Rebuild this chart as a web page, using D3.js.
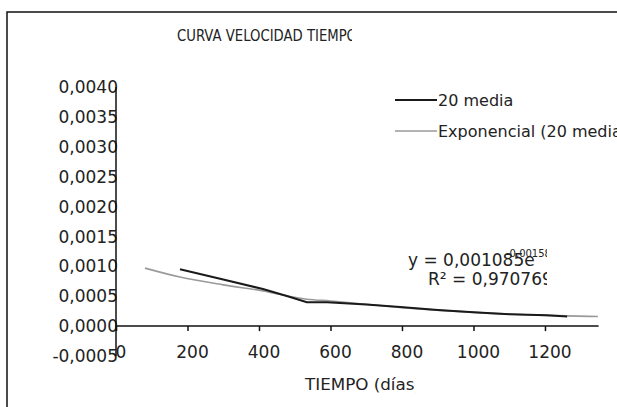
<!DOCTYPE html>
<html lang="es">
<head>
<meta charset="utf-8">
<title>Curva velocidad tiempo</title>
<script src="https://d3js.org/d3.v7.min.js"></script>
<style>
  body { margin: 0; background: #fff; }
  text { font-family: "DejaVu Sans", sans-serif; fill: #222; }
</style>
</head>
<body>
<script>
// values
var mediaDias = [179, 300, 411, 480, 534, 590, 700, 795, 900, 1000, 1100, 1205, 1262];
var mediaVel  = [0.00095, 0.00078, 0.00062, 0.00050, 0.00040, 0.00040, 0.00036, 0.00032, 0.00027, 0.00023, 0.00020, 0.00018, 0.00016];

var expDias = [81, 179, 300, 411, 534, 600, 800, 1000, 1200, 1348];
var expVel  = [0.00097, 0.00082, 0.00069, 0.00059, 0.00045, 0.00042, 0.00031, 0.00023, 0.00018, 0.00016];

var xTicks = [0, 200, 400, 600, 800, 1000, 1200];
var yTicks = [-0.0005, 0, 0.0005, 0.001, 0.0015, 0.002, 0.0025, 0.003, 0.0035, 0.004];
var yTickLabels = ["-0,0005", "0,0000", "0,0005", "0,0010", "0,0015", "0,0020", "0,0025", "0,0030", "0,0035", "0,0040"];

var seriesNames = ["20 media", "Exponencial (20 media)"];

var width = 617, height = 407;

var svg = d3.select("body").append("svg")
    .attr("width", width)
    .attr("height", height);

// outer frame (runs off the right and bottom)
svg.append("rect")
    .attr("x", 7).attr("y", 12)
    .attr("width", 700).attr("height", 420)
    .attr("fill", "none")
    .attr("stroke", "#111")
    .attr("stroke-width", 1.5);

var defs = svg.append("defs");
function clip(id, x, y, w, h) {
  defs.append("clipPath").attr("id", id)
    .append("rect").attr("x", x).attr("y", y).attr("width", w).attr("height", h);
  return "url(#" + id + ")";
}

var x = d3.scaleLinear().domain([0, 1350]).range([116, 598.6]);
var y = d3.scaleLinear().domain([-0.0005, 0.004]).range([356, 87]);

// title (cut off like in the original)
svg.append("text")
    .attr("clip-path", clip("cTitle", 0, 0, 352, 60))
    .attr("x", 177).attr("y", 41)
    .attr("font-size", 16)
    .attr("textLength", 180)
    .attr("lengthAdjust", "spacingAndGlyphs")
    .text("CURVA VELOCIDAD TIEMPO");

// y labels
svg.append("g").selectAll("text")
    .data(yTicks)
    .enter().append("text")
    .attr("x", 118)
    .attr("y", function(d) { return y(d); })
    .attr("dy", "0.36em")
    .attr("text-anchor", "end")
    .attr("font-size", 17)
    .text(function(d, i) { return yTickLabels[i]; });

// x axis
var xAxis = svg.append("g")
    .attr("transform", "translate(0," + y(0) + ")")
    .call(d3.axisBottom(x).tickValues(xTicks).tickSize(5).tickFormat(""));
xAxis.select(".domain").attr("stroke", "#111").attr("stroke-width", 1.5)
    .attr("d", "M" + x(0) + ",0H" + x(1350));
xAxis.selectAll(".tick line").attr("stroke", "#111").attr("stroke-width", 1.5);

svg.append("g").selectAll("text")
    .data(xTicks)
    .enter().append("text")
    .attr("x", function(d) { return x(d) + 5; })
    .attr("y", 358)
    .attr("text-anchor", "middle")
    .attr("font-size", 17)
    .text(function(d) { return d; });

// y axis line
svg.append("line")
    .attr("x1", x(0)).attr("x2", x(0))
    .attr("y1", y(0.004)).attr("y2", y(-0.0005))
    .attr("stroke", "#111").attr("stroke-width", 1.5);

// x title
svg.append("text")
    .attr("clip-path", clip("cXt", 0, 360, 416, 47))
    .attr("x", 305).attr("y", 390)
    .attr("font-size", 16)
    .attr("textLength", 116)
    .attr("lengthAdjust", "spacingAndGlyphs")
    .text("TIEMPO (días)");

// series
var line = d3.line()
    .x(function(d) { return x(d[0]); })
    .y(function(d) { return y(d[1]); });

svg.append("path")
    .datum(d3.zip(expDias, expVel))
    .attr("fill", "none")
    .attr("stroke", "#9a9a9a")
    .attr("stroke-width", 1.6)
    .attr("d", line.curve(d3.curveMonotoneX));

svg.append("path")
    .datum(d3.zip(mediaDias, mediaVel))
    .attr("fill", "none")
    .attr("stroke", "#1a1a1a")
    .attr("stroke-width", 2)
    .attr("d", line.curve(d3.curveLinear));

// equation label
var eq = svg.append("g").attr("clip-path", clip("cEq", 380, 235, 167, 55));
eq.append("text").attr("x", 408).attr("y", 266).attr("font-size", 17)
    .text("y = 0,001085e");
eq.append("text").attr("x", 506).attr("y", 257).attr("font-size", 10)
    .text("-0,001588x");
eq.append("text").attr("x", 428).attr("y", 285).attr("font-size", 17)
    .text("R² = 0,970769");

// legend
var legColors = ["#1a1a1a", "#9a9a9a"];
var leg = svg.append("g").selectAll("g")
    .data(seriesNames)
    .enter().append("g")
    .attr("transform", function(d, i) { return "translate(0," + (100 + i * 31) + ")"; });
leg.append("line")
    .attr("x1", 395).attr("x2", 437)
    .attr("stroke", function(d, i) { return legColors[i]; })
    .attr("stroke-width", function(d, i) { return i ? 1.6 : 2; });
leg.append("text")
    .attr("x", 438).attr("dy", "0.36em")
    .attr("font-size", 16)
    .text(function(d) { return d; });
</script>
</body>
</html>
